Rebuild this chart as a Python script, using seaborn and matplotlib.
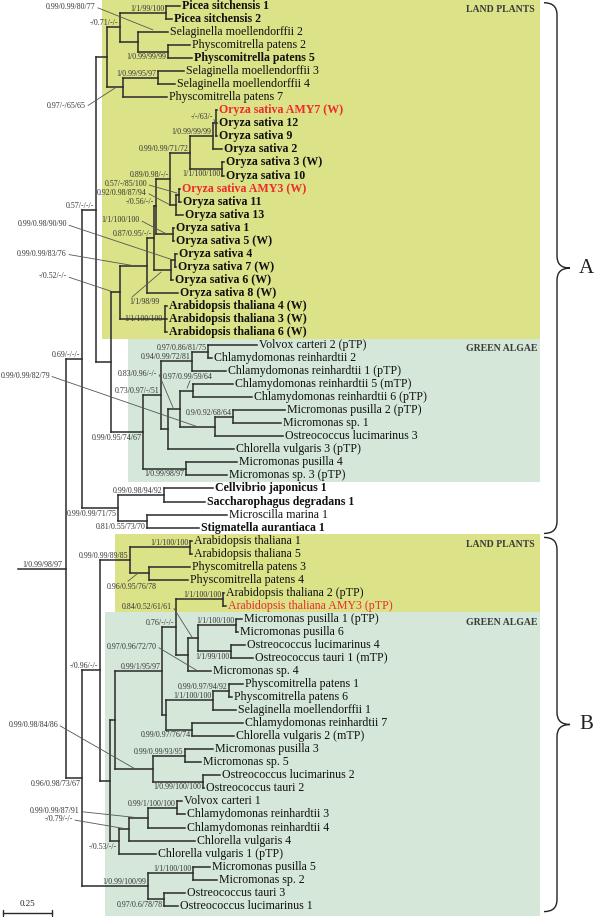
import pandas as pd
import matplotlib
matplotlib.use("Agg")
import matplotlib.pyplot as plt
import seaborn as sns
from matplotlib.path import Path
from matplotlib.patches import PathPatch, Rectangle

sns.set_theme(style="white")
plt.rcParams['font.family'] = ['Liberation Serif', 'DejaVu Serif']

# leaves, top to bottom
leaf_names = [
    "Picea sitchensis 1", "Picea sitchensis 2", "Selaginella moellendorffii 2",
    "Physcomitrella patens 2", "Physcomitrella patens 5", "Selaginella moellendorffii 3",
    "Selaginella moellendorffii 4", "Physcomitrella patens 7", "Oryza sativa AMY7 (W)",
    "Oryza sativa 12", "Oryza sativa 9", "Oryza sativa 2", "Oryza sativa 3 (W)",
    "Oryza sativa 10", "Oryza sativa AMY3 (W)", "Oryza sativa 11", "Oryza sativa 13",
    "Oryza sativa 1", "Oryza sativa 5 (W)", "Oryza sativa 4", "Oryza sativa 7 (W)",
    "Oryza sativa 6 (W)", "Oryza sativa 8 (W)", "Arabidopsis thaliana 4 (W)",
    "Arabidopsis thaliana 3 (W)", "Arabidopsis thaliana 6 (W)",
    "Volvox carteri 2 (pTP)", "Chlamydomonas reinhardtii 2",
    "Chlamydomonas reinhardtii 1 (pTP)", "Chlamydomonas reinhardtii 5 (mTP)",
    "Chlamydomonas reinhardtii 6 (pTP)", "Micromonas pusilla 2 (pTP)", "Micromonas sp. 1",
    "Ostreococcus lucimarinus 3", "Chlorella vulgaris 3 (pTP)", "Micromonas pusilla 4",
    "Micromonas sp. 3 (pTP)", "Cellvibrio japonicus 1", "Saccharophagus degradans 1",
    "Microscilla marina 1", "Stigmatella aurantiaca 1", "Arabidopsis thaliana 1",
    "Arabidopsis thaliana 5", "Physcomitrella patens 3", "Physcomitrella patens 4",
    "Arabidopsis thaliana 2 (pTP)", "Arabidopsis thaliana AMY3 (pTP)",
    "Micromonas pusilla 1 (pTP)", "Micromonas pusilla 6", "Ostreococcus lucimarinus 4",
    "Ostreococcus tauri 1 (mTP)", "Micromonas sp. 4", "Physcomitrella patens 1",
    "Physcomitrella patens 6", "Selaginella moellendorffii 1", "Chlamydomonas reinhardtii 7",
    "Chlorella vulgaris 2 (mTP)", "Micromonas pusilla 3", "Micromonas sp. 5",
    "Ostreococcus lucimarinus 2", "Ostreococcus tauri 2", "Volvox carteri 1",
    "Chlamydomonas reinhardtii 3", "Chlamydomonas reinhardtii 4", "Chlorella vulgaris 4",
    "Chlorella vulgaris 1 (pTP)", "Micromonas pusilla 5", "Micromonas sp. 2",
    "Ostreococcus tauri 3", "Ostreococcus lucimarinus 1",
]

# distance of each tip from the root (substitutions/site)
leaf_tip = [
    0.582, 0.541, 0.520, 0.633, 0.643, 0.602, 0.556, 0.515, 0.770, 0.770,
    0.770, 0.796, 0.806, 0.806, 0.582, 0.587, 0.597, 0.551, 0.551, 0.566,
    0.561, 0.546, 0.571, 0.515, 0.515, 0.515, 0.974, 0.745, 0.816, 0.852,
    0.949, 1.117, 1.097, 1.107, 0.857, 0.872, 0.821, 0.750, 0.709, 0.821,
    0.679, 0.643, 0.643, 0.633, 0.622, 0.806, 0.816, 0.898, 0.878, 0.913,
    0.954, 0.740, 0.903, 0.847, 0.867, 0.903, 0.857, 0.750, 0.689, 0.786,
    0.704, 0.592, 0.607, 0.607, 0.658, 0.459, 0.735, 0.770, 0.607, 0.571,
]
bold_leaves = [0, 1, 4] + list(range(8, 26)) + [37, 38, 40]
red_leaves = [8, 14, 46]

# internal nodes: children (leaf index or node id), depth, support (BI/ML/MP/NJ)
node_ids = ["A1", "A3", "Nb", "Na", "Ns", "Nd", "Nc",
            "Os_a", "Os_b", "Os_d", "Os_c", "Os_e", "Os_f", "n170", "Os_g", "n_o1",
            "Os_h", "Os_i", "n_o2", "n147", "Arab", "N120",
            "G1", "G2", "G3", "G4", "G5", "G6", "G7", "G8", "G9", "G10", "N111", "N96",
            "B1", "B2", "B3", "N82A",
            "C1", "C2", "C3", "C4", "C5", "C6", "C7", "C8", "C9", "C10", "C11", "C12",
            "C13", "C14", "C15", "C16", "C17", "C18", "C19", "C20", "C21", "C22", "C23",
            "C24", "C25", "C26", "C27", "N82B", "root"]
node_children = [[0, 1], [3, 4], [2, "A3"], ["A1", "Nb"], [5, 6], ["Ns", 7], ["Na", "Nd"],
                 [8, 9, 10], ["Os_a", 11], [12, 13], ["Os_b", "Os_d"], [14, 15], ["Os_e", 16],
                 ["Os_c", "Os_f"], [17, 18], ["n170", "Os_g"], [19, 20], ["Os_h", 21],
                 ["n_o1", "Os_i"], ["n_o2", 22], [23, 24, 25], ["n147", "Arab"],
                 [26, 27], ["G1", 28], [29, 30], [31, 32], ["G4", 33], ["G3", "G5"],
                 ["G6", 34], ["G2", "G7"], [35, 36], ["G8", "G9"], ["N120", "G10"],
                 ["Nc", "N111"],
                 [37, 38], [39, 40], ["B1", "B2"], ["N96", "B3"],
                 [41, 42], [43, 44], ["C1", "C2"], [45, 46], [47, 48], [49, 50],
                 ["C5", "C6"], ["C7", 51], ["C4", "C8"], [52, 53], ["C10", 54], [55, 56],
                 ["C11", "C12"], ["C9", "C13"], [57, 58], [59, 60], ["C15", "C16"],
                 ["C14", "C17"], [61, 62], ["C19", 63], ["C20", 64], ["C21", 65],
                 ["C18", "C22"], ["C3", "C23"], [66, 67], [68, 69], ["C25", "C26"],
                 ["C24", "C27"], ["N82A", "N82B"]]
node_depth = [0.510, 0.520, 0.367, 0.276, 0.469, 0.291, 0.209,
              0.765, 0.750, 0.796, 0.633, 0.577, 0.561, 0.531, 0.546, 0.459,
              0.556, 0.536, 0.449, 0.413, 0.505, 0.276,
              0.724, 0.643, 0.648, 0.852, 0.760, 0.582, 0.520, 0.485, 0.612, 0.393,
              0.230, 0.153,
              0.500, 0.413, 0.265, 0.082,
              0.633, 0.423, 0.327, 0.801, 0.867, 0.842, 0.673, 0.622, 0.561, 0.832,
              0.750, 0.643, 0.510, 0.490, 0.607, 0.699, 0.444, 0.250, 0.566, 0.418,
              0.321, 0.270, 0.224, 0.173, 0.648, 0.500, 0.418, 0.082, 0.000]
node_support = ["1/1/99/100", "1/0.99/99/99", "0.99/0.99/80/77", "-/0.71/-/-",
                "1/0.99/95/97", "0.97/-/65/65", "",
                "-/-/63/-", "1/0.99/99/99", "1/1/100/100", "0.99/0.99/71/72",
                "0.57/-/85/100", "0.92/0.98/87/94", "0.89/0.98/-/-", "1/1/100/100",
                "-/0.56/-/-", "0.99/0.98/90/90", "1/1/98/99", "0.87/0.95/-/-",
                "0.99/0.99/83/76", "1/1/100/100", "-/0.52/-/-",
                "0.97/0.86/81/75", "0.94/0.99/72/81", "0.97/0.99/59/64", "0.9/0.92/68/64",
                "0.99/0.99/82/79", "0.83/0.96/-/-", "", "0.73/0.97/-/51", "1/0.99/98/97",
                "0.99/0.95/74/67", "", "0.57/-/-/-",
                "0.99/0.98/94/92", "0.81/0.55/73/70", "0.99/0.99/71/75", "0.69/-/-/-",
                "1/1/100/100", "0.96/0.95/76/78", "0.99/0.99/89/85", "1/1/100/100",
                "1/1/100/100", "1/1/99/100", "0.84/0.52/61/61", "0.97/0.96/72/70",
                "0.76/-/-/-", "0.99/0.97/94/92", "1/1/100/100", "0.99/0.97/76/74", "",
                "0.99/1/95/97", "0.99/0.99/93/95", "1/0.99/100/100", "0.99/0.98/84/86", "",
                "0.99/1/100/100", "0.99/0.99/87/91", "-/0.79/-/-", "-/0.53/-/-", "",
                "-/0.96/-/-", "1/1/100/100", "0.97/0.6/78/78", "1/0.99/100/99",
                "0.96/0.98/73/67", "1/0.99/98/97"]
root_stub = -0.245

# clade shading
box_first = [0, 26, 41, 47]
box_last = [25, 36, 46, 69]
box_left = [0.184, 0.316, 0.250, 0.199]
box_title = ["LAND PLANTS", "GREEN ALGAE", "LAND PLANTS", "GREEN ALGAE"]
brace_first = [0, 41]
brace_last = [40, 69]
brace_name = ["A", "B"]

# ---- layout ----
PX = 196.0      # pixels per unit of branch length
ROW = 13.04     # pixels per leaf row
LAND, ALGAE = "#dbe287", "#d4e7d9"
LINE = "#2b2b2b"
SUP = "#333333"

below = {"A3", "Os_d", "G9", "G10", "B2", "B3", "C6", "C12", "C16", "C22", "C26", "N82B"}
left = {"Arab"}
# node, text offset, text ha, line start offset, target offset (pixels)
pointers = [
    ("Nb", (-42, -35), "right", (-40, -34), (15, -12)),
    ("Nd", (-37, 18.5), "right", (-35, 18), (-8, 0.5)),
    ("Os_a", (-3, -6.4), "right", (-2, -4), (0, 3.6)),
    ("Os_e", (-32, -11), "right", (-30, -10), (-2, -2)),
    ("Os_f", (-29, -12), "right", (-27, -11), (-6, 0)),
    ("Os_g", (-33, -14), "right", (-31, -13), (-8, -1)),
    ("Os_h", (-108, -36), "right", (-106, -35), (-1, 0)),
    ("n147", (-80, -12), "right", (-78, -11), (-14, 0)),
    ("N120", (-53, -16), "right", (-51, -15), (-9, -1)),
    ("Os_i", (-27, 32), "center", (-39, 27), (-10, 2)),
    ("G6", (-23, -35), "right", (-21, -34), (-7, -1)),
    ("G3", (-5, -14), "center", (-3, -10), (-6, -2.5)),
    ("G5", (-165, -51), "right", (-163, -50), (-18, 0)),
    ("C2", (-17, 14), "center", (-21, 8), (-11, 0)),
    ("C7", (-26, -31), "right", (-24, -30), (-6, -1.5)),
    ("C8", (-31, -8), "right", (-29, -7), (10, 16.3)),
    ("C17", (-95, -44), "right", (-93, -43), (-18, 0)),
    ("C20", (-68, -7), "right", (-66, -6), (-10, 0)),
    ("C21", (-56, -10), "right", (-54, -9), (-1, 0)),
]

depth = dict(zip(node_ids, node_depth))
kids = dict(zip(node_ids, node_children))
support = dict(zip(node_ids, node_support))
ypos = {}


def node_y(k):
    if isinstance(k, int):
        return float(k)
    if k not in ypos:
        ch = kids[k]
        ypos[k] = (node_y(ch[0]) + node_y(ch[-1])) / 2
    return ypos[k]


def node_x(k):
    return leaf_tip[k] if isinstance(k, int) else depth[k]


rows = []
seg = 0
for nid in node_ids:
    x = depth[nid]
    ys = [node_y(c) for c in kids[nid]]
    rows += [(seg, x, ys[0]), (seg, x, ys[-1])]
    seg += 1
    for c in kids[nid]:
        rows += [(seg, x, node_y(c)), (seg, node_x(c), node_y(c))]
        seg += 1
rows += [(seg, root_stub, node_y("root")), (seg, 0.0, node_y("root"))]
segs = pd.DataFrame(rows, columns=["seg", "x", "y"])

fig = plt.figure(figsize=(6, 9.17), dpi=100)
ax = fig.add_axes([0, 0, 1, 1])

for f, l, bl, t in zip(box_first, box_last, box_left, box_title):
    col = LAND if t == "LAND PLANTS" else ALGAE
    bottom = l + 0.5 if l < len(leaf_names) - 1 else l + 0.75
    ax.add_patch(Rectangle((bl, f - 0.5), (540 - 66) / PX - bl, bottom - (f - 0.5),
                           facecolor=col, edgecolor="none", zorder=0))
    ax.text((466 - 66) / PX, f + 0.3, t, fontsize=7, fontweight="bold",
            color="#3a3a3a", ha="left", va="center")

sns.lineplot(data=segs, x="x", y="y", units="seg", estimator=None, sort=False,
             color=LINE, linewidth=1.1, solid_capstyle="projecting", ax=ax, legend=False)

for i, name in enumerate(leaf_names):
    ax.text(leaf_tip[i] + 2 / PX, i, name, fontsize=8.6, va="center", ha="left",
            fontweight="bold" if i in bold_leaves else "normal",
            color="#ee2a2a" if i in red_leaves else "#111111")

pointer_nodes = {p[0] for p in pointers}
for nid in node_ids:
    s = support[nid]
    if not s or nid in pointer_nodes:
        continue
    x, y = depth[nid], node_y(nid)
    if nid == "root":
        ax.text(x - 4 / PX, y - 2 / ROW, s, fontsize=5.7, color=SUP, ha="right", va="baseline")
    elif nid in below:
        ax.text(x - 1.5 / PX, y + 1.5 / ROW, s, fontsize=5.7, color=SUP, ha="right", va="top")
    elif nid in left:
        ax.text(x - 2 / PX, y, s, fontsize=5.7, color=SUP, ha="right", va="center")
    else:
        ax.text(x - 1.5 / PX, y - 2 / ROW, s, fontsize=5.7, color=SUP, ha="right", va="baseline")

for nid, toff, ha, soff, tgt in pointers:
    x, y = depth[nid], node_y(nid)
    ax.text(x + toff[0] / PX, y + toff[1] / ROW, support[nid], fontsize=5.7, color=SUP,
            ha=ha, va="center")
    ax.plot([x + soff[0] / PX, x + tgt[0] / PX], [y + soff[1] / ROW, y + tgt[1] / ROW],
            color="#555555", lw=0.6)

# braces
for f, l, name in zip(brace_first, brace_last, brace_name):
    x0 = (544 - 66) / PX
    w = 26 / PX
    y0, y1 = f - 0.25, l + 0.45
    ym = (y0 + y1) / 2
    r = 12 / ROW
    xm = x0 + w / 2
    verts = [(x0, y0), (xm, y0), (xm, y0 + r), (xm, ym - r), (xm, ym), (x0 + w, ym),
             (xm, ym), (xm, ym + r), (xm, y1 - r), (xm, y1), (x0, y1)]
    codes = [Path.MOVETO, Path.CURVE3, Path.CURVE3, Path.LINETO, Path.CURVE3, Path.CURVE3,
             Path.CURVE3, Path.CURVE3, Path.LINETO, Path.CURVE3, Path.CURVE3]
    ax.add_patch(PathPatch(Path(verts, codes), facecolor="none", edgecolor="#222222", lw=1.0))
    ax.text(x0 + w + 16 / PX, ym, name, fontsize=15, ha="center", va="center", color="#222222")

# scale bar
sb_x0, sb_len = -0.32, 0.25
sb_y = 69.55
ax.plot([sb_x0, sb_x0 + sb_len], [sb_y, sb_y], color=LINE, lw=1.0)
for xx in (sb_x0, sb_x0 + sb_len):
    ax.plot([xx, xx], [sb_y - 3 / ROW, sb_y + 3 / ROW], color=LINE, lw=1.0)
ax.text(sb_x0 + sb_len / 2, sb_y - 5 / ROW, "0.25", fontsize=6.5, ha="center", va="bottom",
        color="#222222")

ax.set_xlim(-66 / PX, (600 - 66) / PX)
ax.set_ylim((917 - 6) / ROW, -6 / ROW)
ax.axis("off")
fig.savefig("out.png", dpi=100, facecolor="white")
